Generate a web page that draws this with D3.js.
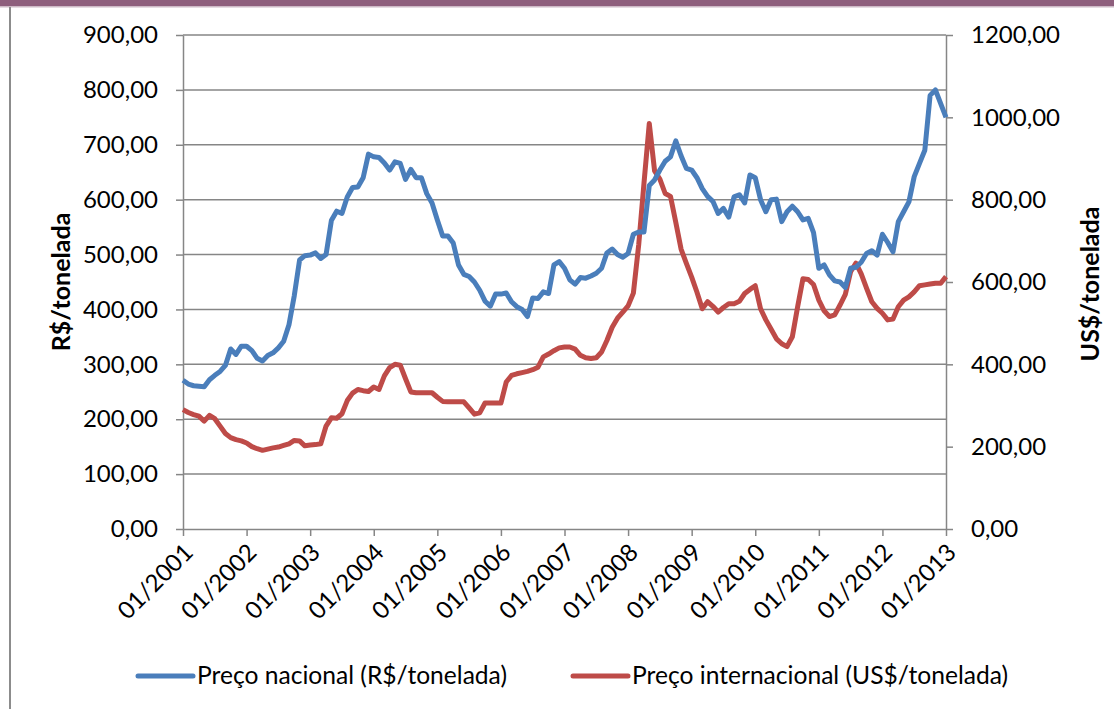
<!DOCTYPE html>
<html>
<head>
<meta charset="utf-8">
<script src="https://cdn.jsdelivr.net/npm/d3@7"></script>
<style>
  body { margin: 0; background: #fff; }
  text { font-family: Lato, "Open Sans", sans-serif; fill: #000; }
</style>
</head>
<body>
<div id="container"></div>
<script>
// monthly prices, 01/2001 .. 01/2013
const nacional = [
  271, 264, 261, 260, 259, 272, 280, 287, 298, 328, 318, 333,
  333, 325, 311, 306, 316, 321, 330, 342, 372, 425, 490, 498,
  499, 503, 493, 500, 562, 579, 575, 605, 622, 623, 640, 683,
  678, 677, 667, 654, 669, 666, 637, 655, 640, 640, 611, 594,
  563, 534, 534, 521, 481, 464, 460, 450, 435, 415, 406, 428,
  428, 430, 414, 405, 400, 387, 421, 420, 432, 429, 481, 487,
  475, 454, 446, 458, 457, 461, 466, 475, 503, 510, 500, 495,
  502, 537, 541, 541, 626, 636, 654, 670, 678, 707, 680, 657,
  654, 640, 620, 606, 597, 575, 584, 568, 605, 609, 594, 645,
  640, 600, 578, 600, 601, 560, 578, 588, 578, 563, 566, 540,
  475, 481, 463, 452, 450, 440, 475, 477, 486, 502, 507, 499,
  537, 522, 505, 560, 578, 596, 642, 666, 690, 790, 800, 775,
  750
]

const internacional = [
  290, 283, 278, 274, 262, 276, 268, 250, 232, 222, 217, 214,
  209, 200, 195, 191, 194, 197, 199, 203, 207, 215, 214, 202,
  204, 205, 207, 250, 270, 269, 280, 312, 330, 339, 336, 334,
  345, 339, 372, 392, 400, 398, 365, 333, 331, 331, 331, 331,
  320, 310, 309, 309, 309, 309, 294, 279, 282, 306, 306, 306,
  306, 357, 373, 377, 380, 383, 387, 393, 418, 425, 433, 440,
  442, 442, 437, 422, 416, 414, 416, 430, 458, 490, 512, 527,
  542, 573, 690, 840, 985, 870, 850, 815, 808, 745, 680, 645,
  612, 575, 535, 552, 541, 527, 538, 547, 547, 553, 572, 582,
  591, 535, 508, 485, 462, 450, 443, 467, 540, 608, 606, 594,
  556, 530, 516, 520, 544, 570, 625, 646, 620, 585, 552, 536,
  524, 508, 510, 540, 556, 564, 576, 591, 593, 595, 597, 597,
  613
]

const tickLabels = ["01/2001", "01/2002", "01/2003", "01/2004", "01/2005", "01/2006",
  "01/2007", "01/2008", "01/2009", "01/2010", "01/2011", "01/2012", "01/2013"]
const leftTicks = [0, 100, 200, 300, 400, 500, 600, 700, 800, 900]
const rightTicks = [0, 200, 400, 600, 800, 1000, 1200]

const seriesNames = ["Preço nacional (R$/tonelada)", "Preço internacional (US$/tonelada)"]
const colors = ["#4A7EBB", "#BE4B48"]

const w = 1114
const h = 709
const plotLeft = 183, plotRight = 946, plotTop = 35, plotBottom = 529
const fontSize = "24px"

const svg = d3.select("#container")
  .append("svg")
  .attr("width", w)
  .attr("height", h)

// frame bits of the page
svg.append("rect").attr("x", 0).attr("y", 0).attr("width", w).attr("height", 6).attr("fill", "#8E5F7D")
svg.append("rect").attr("x", 0).attr("y", 6).attr("width", w).attr("height", 1.5).attr("fill", "#cdbac6")
svg.append("line").attr("x1", 10).attr("x2", 10).attr("y1", 7).attr("y2", h)
  .attr("stroke", "#8c8c8c").attr("stroke-width", 2)

const x = d3.scaleLinear().domain([0, nacional.length - 1]).range([plotLeft, plotRight])
const yL = d3.scaleLinear().domain([0, 900]).range([plotBottom, plotTop])
const yR = d3.scaleLinear().domain([0, 1200]).range([plotBottom, plotTop])

const fmt = (d) => d3.format(".2f")(d).replace(".", ",")

// gridlines
svg.append("g")
  .selectAll("line")
  .data(leftTicks.filter((d) => d > 0))
  .enter()
  .append("line")
  .attr("x1", plotLeft)
  .attr("x2", plotRight)
  .attr("y1", (d) => yL(d))
  .attr("y2", (d) => yL(d))
  .attr("stroke", "#868686")
  .attr("stroke-width", 1.5)

const styleAxis = (g) => {
  g.select(".domain").attr("stroke", "#868686").attr("stroke-width", 1.5)
  g.selectAll(".tick line").attr("stroke", "#868686").attr("stroke-width", 1.5)
  g.selectAll("text").style("font-size", fontSize).attr("fill", "#000")
}

svg.append("g")
  .attr("transform", `translate(${plotLeft},0)`)
  .call(d3.axisLeft(yL).tickValues(leftTicks).tickFormat(fmt).tickSize(7).tickPadding(18).tickSizeOuter(0))
  .call(styleAxis)

svg.append("g")
  .attr("transform", `translate(${plotRight},0)`)
  .call(d3.axisRight(yR).tickValues(rightTicks).tickFormat(fmt).tickSize(7).tickPadding(18).tickSizeOuter(0))
  .call(styleAxis)

const xTicks = tickLabels.map((t, i) => i * 12)
const xAxis = svg.append("g")
  .attr("transform", `translate(0,${plotBottom})`)
  .call(d3.axisBottom(x).tickValues(xTicks).tickFormat((d, i) => tickLabels[i]).tickSize(7).tickSizeOuter(0))
  .call(styleAxis)

xAxis.selectAll("text")
  .attr("text-anchor", "end")
  .attr("dy", null)
  .attr("y", 0)
  .attr("transform", "translate(11,25) rotate(-45)")

// axis titles
svg.append("text")
  .attr("transform", `translate(70,${(plotTop + plotBottom) / 2}) rotate(-90)`)
  .attr("text-anchor", "middle")
  .style("font-size", "25px")
  .style("font-weight", "bold")
  .text("R$/tonelada")

svg.append("text")
  .attr("transform", `translate(1099,${(plotTop + plotBottom) / 2 + 2}) rotate(-90)`)
  .attr("text-anchor", "middle")
  .style("font-size", "25px")
  .style("font-weight", "bold")
  .text("US$/tonelada")

// lines
const lineL = d3.line().x((d, i) => x(i)).y((d) => yL(d))
const lineR = d3.line().x((d, i) => x(i)).y((d) => yR(d))

svg.append("path")
  .datum(internacional)
  .attr("d", lineR)
  .attr("fill", "none")
  .attr("stroke", colors[1])
  .attr("stroke-width", 5)
  .attr("stroke-linejoin", "round")

svg.append("path")
  .datum(nacional)
  .attr("d", lineL)
  .attr("fill", "none")
  .attr("stroke", colors[0])
  .attr("stroke-width", 5)
  .attr("stroke-linejoin", "round")

// legend
const legendX = [138, 573]
const legend = svg.append("g")
  .selectAll("g")
  .data(seriesNames)
  .enter()
  .append("g")
  .attr("transform", (d, i) => `translate(${legendX[i]},676)`)

legend.append("line")
  .attr("x1", 0).attr("x2", 55)
  .attr("stroke", (d, i) => colors[i])
  .attr("stroke-width", 5)
  .attr("stroke-linecap", "round")

legend.append("text")
  .attr("x", 59)
  .attr("y", 8)
  .style("font-size", "24.6px")
  .text((d) => d)
</script>
</body>
</html>
